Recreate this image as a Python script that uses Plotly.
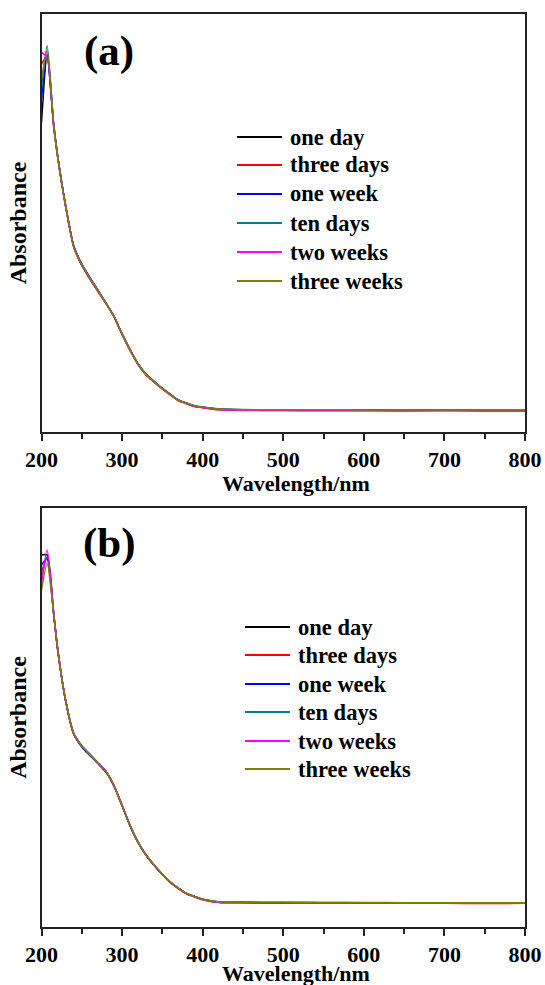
import plotly.graph_objects as go

# Sampling wavelengths (nm)
wavelength = [200, 207, 215, 220, 230, 240, 250, 260, 270, 280, 290, 300, 310, 320,
              330, 340, 350, 360, 370, 380, 390, 400, 420, 450, 500, 550, 600, 650,
              700, 750, 800]

series_names = ["one day", "three days", "one week", "ten days", "two weeks", "three weeks"]
series_colors = ["#000000", "#ff0000", "#0000ff", "#008080", "#ff00ff", "#808000"]

# Panel (a) absorbance spectra
one_day_a = [1.85, 2.26, 1.84, 1.65, 1.35, 1.11, 1.00, 0.920, 0.845, 0.770, 0.690, 0.585, 0.490, 0.405,
             0.343, 0.300, 0.260, 0.224, 0.190, 0.172, 0.155, 0.148, 0.136, 0.132, 0.131, 0.131, 0.130,
             0.130, 0.130, 0.129, 0.129]
three_days_a = [2.20, 2.25, 1.83, 1.645, 1.345, 1.105, 0.995, 0.915, 0.840, 0.768, 0.688, 0.583, 0.487, 0.402,
                0.340, 0.297, 0.257, 0.221, 0.187, 0.169, 0.152, 0.145, 0.133, 0.129, 0.128, 0.127, 0.127,
                0.126, 0.127, 0.126, 0.126]
one_week_a = [1.99, 2.25, 1.845, 1.655, 1.355, 1.115, 1.005, 0.925, 0.850, 0.772, 0.692, 0.588, 0.492, 0.407,
              0.345, 0.302, 0.261, 0.225, 0.191, 0.173, 0.156, 0.149, 0.137, 0.133, 0.132, 0.132, 0.131,
              0.131, 0.131, 0.130, 0.130]
ten_days_a = [2.05, 2.31, 1.85, 1.655, 1.352, 1.112, 1.002, 0.922, 0.847, 0.771, 0.691, 0.586, 0.491, 0.406,
              0.344, 0.301, 0.261, 0.225, 0.191, 0.173, 0.156, 0.149, 0.137, 0.133, 0.132, 0.132, 0.131,
              0.131, 0.131, 0.130, 0.130]
two_weeks_a = [2.27, 2.24, 1.835, 1.648, 1.348, 1.108, 0.998, 0.918, 0.843, 0.769, 0.689, 0.584, 0.488, 0.403,
               0.341, 0.298, 0.258, 0.222, 0.188, 0.170, 0.153, 0.146, 0.134, 0.130, 0.129, 0.128, 0.128,
               0.127, 0.128, 0.127, 0.127]
three_weeks_a = [2.11, 2.28, 1.84, 1.65, 1.35, 1.11, 1.00, 0.920, 0.845, 0.770, 0.690, 0.585, 0.490, 0.405,
                 0.343, 0.300, 0.260, 0.224, 0.190, 0.172, 0.156, 0.149, 0.138, 0.134, 0.133, 0.133, 0.132,
                 0.132, 0.132, 0.131, 0.131]

# Panel (b) absorbance spectra
one_day_b = [2.22, 2.22, 1.875, 1.66, 1.35, 1.155, 1.08, 1.030, 0.980, 0.928, 0.843, 0.726, 0.605, 0.505,
             0.428, 0.368, 0.315, 0.268, 0.231, 0.200, 0.182, 0.165, 0.149, 0.147, 0.146, 0.145, 0.145,
             0.144, 0.144, 0.143, 0.143]
three_days_b = [2.12, 2.20, 1.870, 1.655, 1.347, 1.152, 1.077, 1.027, 0.977, 0.925, 0.840, 0.723, 0.602, 0.502,
                0.425, 0.365, 0.312, 0.265, 0.228, 0.197, 0.179, 0.162, 0.146, 0.144, 0.143, 0.142, 0.142,
                0.141, 0.141, 0.140, 0.141]
one_week_b = [2.16, 2.20, 1.872, 1.658, 1.348, 1.150, 1.074, 1.024, 0.975, 0.924, 0.840, 0.724, 0.604, 0.504,
              0.427, 0.367, 0.314, 0.267, 0.230, 0.199, 0.181, 0.164, 0.148, 0.146, 0.145, 0.144, 0.144,
              0.143, 0.143, 0.142, 0.142]
ten_days_b = [2.08, 2.21, 1.874, 1.659, 1.350, 1.153, 1.078, 1.028, 0.978, 0.927, 0.842, 0.725, 0.605, 0.505,
              0.428, 0.368, 0.315, 0.268, 0.231, 0.200, 0.182, 0.165, 0.149, 0.147, 0.146, 0.146, 0.145,
              0.145, 0.144, 0.144, 0.144]
two_weeks_b = [2.05, 2.25, 1.885, 1.665, 1.353, 1.157, 1.082, 1.032, 0.982, 0.930, 0.845, 0.728, 0.607, 0.506,
               0.429, 0.369, 0.315, 0.268, 0.231, 0.199, 0.181, 0.164, 0.147, 0.145, 0.144, 0.143, 0.143,
               0.142, 0.142, 0.141, 0.141]
three_weeks_b = [2.01, 2.17, 1.875, 1.660, 1.350, 1.155, 1.080, 1.030, 0.980, 0.928, 0.843, 0.726, 0.605, 0.505,
                 0.428, 0.368, 0.315, 0.268, 0.231, 0.200, 0.182, 0.166, 0.150, 0.148, 0.147, 0.146, 0.146,
                 0.145, 0.145, 0.144, 0.145]

panel_a = [one_day_a, three_days_a, one_week_a, ten_days_a, two_weeks_a, three_weeks_a]
panel_b = [one_day_b, three_days_b, one_week_b, ten_days_b, two_weeks_b, three_weeks_b]

W, H = 545, 985
SERIF = "Liberation Serif, Times New Roman, serif"


def px_x(x):
    return x / W


def px_y(y):
    return 1 - y / H


fig = go.Figure()

for vals, name, color in zip(panel_a, series_names, series_colors):
    fig.add_trace(go.Scatter(x=wavelength, y=vals, mode="lines", name=name,
                             line=dict(color=color, width=1.5, shape="spline", smoothing=0.6),
                             xaxis="x", yaxis="y", showlegend=False))
for vals, name, color in zip(panel_b, series_names, series_colors):
    fig.add_trace(go.Scatter(x=wavelength, y=vals, mode="lines", name=name,
                             line=dict(color=color, width=1.5, shape="spline", smoothing=0.6),
                             xaxis="x2", yaxis="y2", showlegend=False))

tick_font = dict(family=SERIF, size=22, color="#000", weight="bold")
title_font = dict(family=SERIF, size=22, color="#000", weight="bold")

xaxis_common = dict(
    range=[200, 800], dtick=100, tick0=200, ticks="outside", ticklen=7, tickwidth=2,
    tickcolor="#222", showline=True, linewidth=2, linecolor="#222", mirror=True,
    showgrid=False, zeroline=False, tickfont=tick_font,
    minor=dict(dtick=50, ticks="outside", ticklen=5, tickwidth=2, tickcolor="#222", showgrid=False),
    automargin=False,
)
yaxis_common = dict(
    range=[0, 2.5], showticklabels=False, ticks="", showline=True, linewidth=2,
    linecolor="#222", mirror=True, showgrid=False, zeroline=False,
    title=dict(text="Absorbance", font=dict(family=SERIF, size=24, color="#000", weight="bold"),
               standoff=6),
    automargin=False,
)

left, right = 41.5, 525
fig.update_layout(
    width=W, height=H,
    margin=dict(l=0, r=0, t=0, b=0),
    paper_bgcolor="white", plot_bgcolor="white",
    xaxis=dict(domain=[px_x(left), px_x(right)], anchor="y", **xaxis_common),
    yaxis=dict(domain=[px_y(432), px_y(14)], anchor="x", **yaxis_common),
    xaxis2=dict(domain=[px_x(left), px_x(right)], anchor="y2", **xaxis_common),
    yaxis2=dict(domain=[px_y(927), px_y(508)], anchor="x2", **yaxis_common),
)

# Wavelength axis titles, set just beneath the tick labels
for cy in (483, 973):
    fig.add_annotation(text="Wavelength/nm", x=px_x(296), y=px_y(cy), xref="paper", yref="paper",
                       showarrow=False, xanchor="center", yanchor="middle", borderpad=0,
                       font=title_font)

# Panel labels
for label, cy in (("(a)", 51), ("(b)", 543)):
    fig.add_annotation(text=label, x=px_x(109), y=px_y(cy), xref="paper", yref="paper",
                       showarrow=False, xanchor="center", yanchor="middle",
                       font=dict(family=SERIF, size=43, color="#000", weight="bold"))

# Legend blocks (line sample + bold label) inside each panel
legend_blocks = [
    (237, 282, 288, [137, 165, 194, 223, 252, 281]),
    (245, 290, 296, [627, 655, 684, 712, 741, 769]),
]
for lx0, lx1, tx, rows in legend_blocks:
    for name, color, ry in zip(series_names, series_colors, rows):
        fig.add_shape(type="line", xref="paper", yref="paper",
                      x0=px_x(lx0), x1=px_x(lx1), y0=px_y(ry), y1=px_y(ry),
                      line=dict(color=color, width=2))
        fig.add_annotation(text=name, x=px_x(tx), y=px_y(ry), xref="paper", yref="paper",
                           showarrow=False, xanchor="left", yanchor="middle",
                           font=dict(family=SERIF, size=22.5, color="#000", weight="bold"))

fig.write_html("out.html")
